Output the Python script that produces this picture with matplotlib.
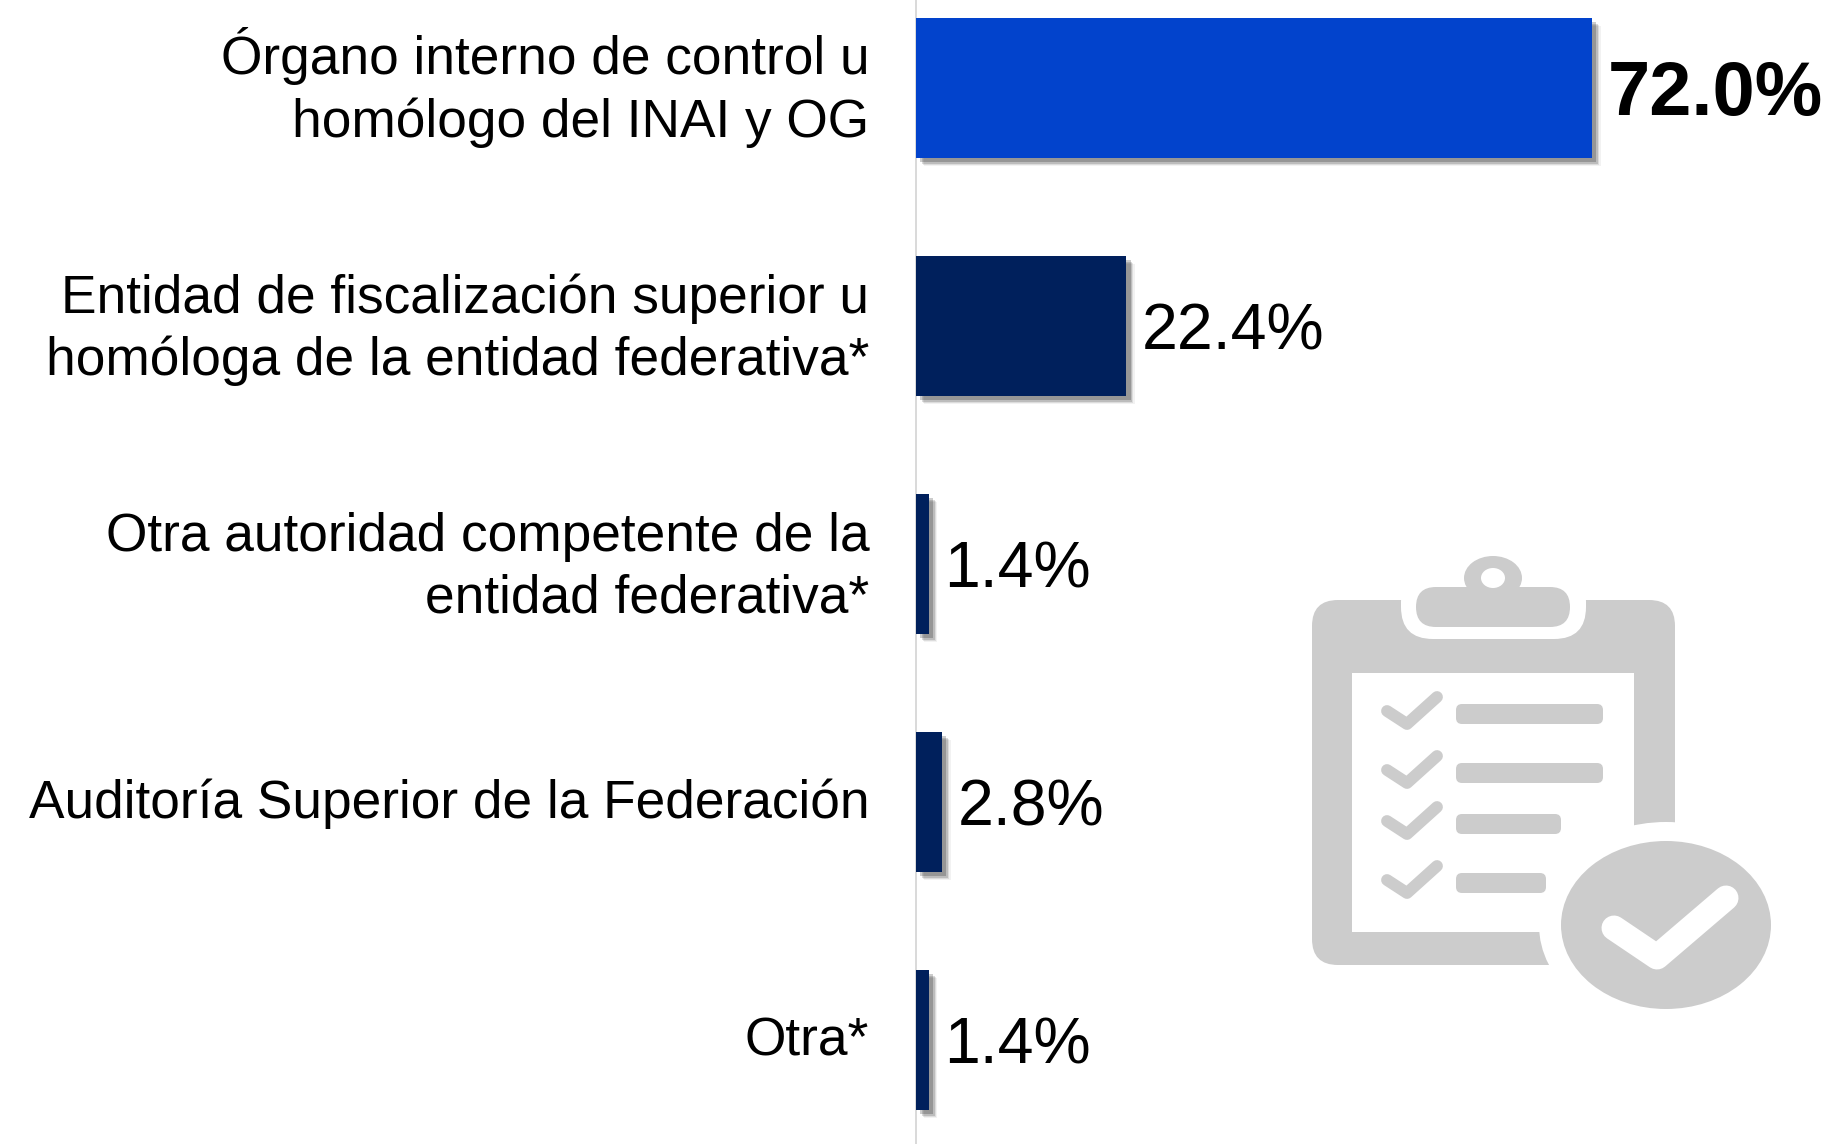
import matplotlib
matplotlib.use("Agg")
import matplotlib.pyplot as plt
import matplotlib.patheffects as pe
from matplotlib.patches import Ellipse, FancyBboxPatch, Rectangle
from matplotlib.transforms import ScaledTranslation

plt.rcParams['font.family'] = ['Liberation Sans', 'DejaVu Sans']

# ---------------------------------------------------------------
# Data
# ---------------------------------------------------------------

categories = [
    "Órgano interno de control u\nhomólogo del INAI y OG",
    "Entidad de fiscalización superior u\nhomóloga de la entidad federativa*",
    "Otra autoridad competente de la\nentidad federativa*",
    "Auditoría Superior de la Federación",
    "Otra*",
]
values = [72.0, 22.4, 1.4, 2.8, 1.4]
bar_colors = ["#0243CC", "#00205C", "#00205C", "#00205C", "#00205C"]

# rows of the list on the icon: y of the row, right end of the grey bar
icon_rows = [714, 773, 824, 883]
icon_row_ends = [1603, 1603, 1561, 1546]

ICON_GREY = "#CCCCCC"

# ---------------------------------------------------------------
# Chart
# ---------------------------------------------------------------

fig = plt.figure(figsize=(18.28, 11.44), dpi=100)
ax = fig.add_axes([916 / 1828, 0, 912 / 1828, 1])

shadow = [
    pe.SimplePatchShadow(offset=(6, -6), shadow_rgbFace="#000000", alpha=0.05),
    pe.SimplePatchShadow(offset=(5, -5), shadow_rgbFace="#000000", alpha=0.09),
    pe.SimplePatchShadow(offset=(4, -4), shadow_rgbFace="#000000", alpha=0.14),
    pe.SimplePatchShadow(offset=(3, -3), shadow_rgbFace="#000000", alpha=0.2),
    pe.Normal(),
]

positions = list(range(len(values)))
bars = ax.barh(positions, values, height=0.588, color=bar_colors, zorder=3)
for bar in bars:
    bar.set_path_effects(shadow)

ax.set_xlim(0, 97.1)
ax.set_ylim(4.437, -0.37)
ax.set_xticks([])
ax.set_yticks(positions)
ax.set_yticklabels(categories, fontsize=38.3, color="#000000", linespacing=1.30)
ax.tick_params(axis='y', length=0, pad=33.7)

# labels sit a little above the bar centre in the original
# (the accent on the first label makes its block taller, so it gets its own shift)
label_shifts = [-8.5, -5.5, -5.5, -2.8, -2.8]
for label, dy in zip(ax.get_yticklabels(), label_shifts):
    label.set_transform(label.get_transform()
                        + ScaledTranslation(0, -dy / 72, fig.dpi_scale_trans))

for side in ['top', 'right', 'bottom']:
    ax.spines[side].set_visible(False)
ax.spines['left'].set_color("#D9D9D9")
ax.spines['left'].set_linewidth(1.4)

# value labels, the first one is bold and bigger
for i, v in enumerate(values):
    ax.annotate(f"{v:.1f}%", (v, i), xytext=(10.8, -5.5 if i == 0 else -5),
                textcoords='offset points', va='center', ha='left', color="#000000",
                fontsize=54.6 if i == 0 else 46.4,
                fontweight='bold' if i == 0 else 'normal', zorder=4)

# ---------------------------------------------------------------
# Clipboard icon (overlay in pixel coordinates)
# ---------------------------------------------------------------

ic = fig.add_axes([0, 0, 1, 1], facecolor='none')
ic.set_xlim(0, 1828)
ic.set_ylim(1144, 0)
ic.axis('off')


def rbox(x0, y0, x1, y1, r, color):
    ic.add_patch(FancyBboxPatch((x0, y0), x1 - x0, y1 - y0,
                                boxstyle=f"round,pad=0,rounding_size={r}",
                                fc=color, ec='none'))


# board, sheet and the gap round the clip
rbox(1312, 600, 1675, 965, 26, ICON_GREY)
ic.add_patch(Rectangle((1352, 673), 282, 259, fc='white', ec='none'))
rbox(1401, 570, 1586, 639, 32, 'white')

# clip
ic.add_patch(Ellipse((1493, 578), 58, 44, fc=ICON_GREY, ec='none'))
rbox(1416, 587, 1570, 627, 20, ICON_GREY)
ic.add_patch(Ellipse((1493, 578), 24, 20, fc='white', ec='none'))

# small ticks and bars
for row, end in zip(icon_rows, icon_row_ends):
    ic.plot([1387, 1407, 1437], [row - 3, row + 10, row - 17], color=ICON_GREY,
            lw=8.5, solid_capstyle='round', solid_joinstyle='round')
    rbox(1456, row - 10, end, row + 10, 6, ICON_GREY)

# badge
ic.add_patch(Ellipse((1666, 925), 254, 206, fc='white', ec='none'))
ic.add_patch(Ellipse((1666, 925), 210, 168, fc=ICON_GREY, ec='none'))
ic.plot([1614, 1657, 1726], [928, 957, 898], color='white', lw=18,
        solid_capstyle='round', solid_joinstyle='round')

fig.savefig("out.png", dpi=100, facecolor='white')
plt.close(fig)
